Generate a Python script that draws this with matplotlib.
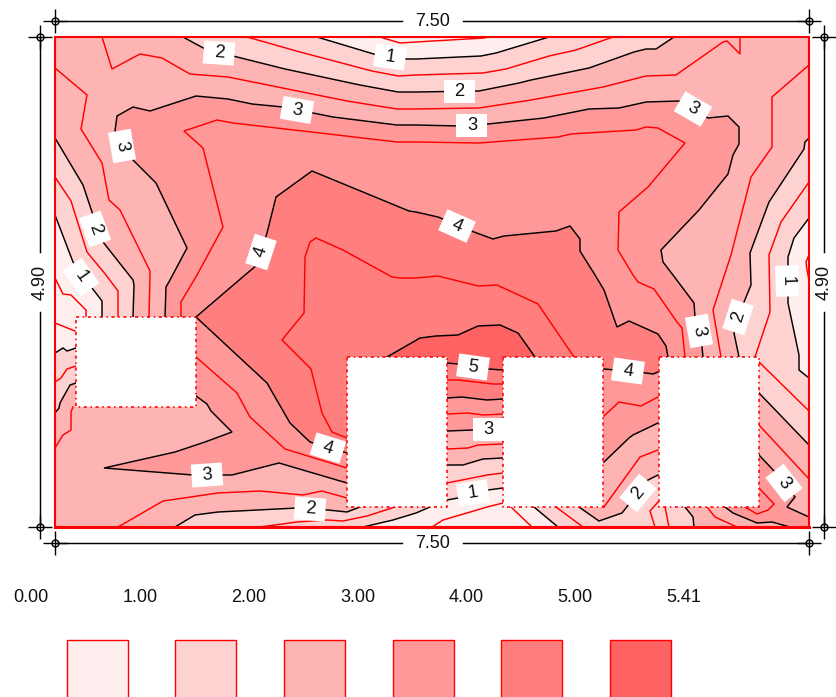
import numpy as np
import matplotlib
matplotlib.use("Agg")
import matplotlib.pyplot as plt
from matplotlib.patches import Polygon, Rectangle

plt.rcParams["font.family"] = ["Liberation Sans", "DejaVu Sans"]

# slab size in metres
slab_w = 7.50
slab_h = 4.90

legend_labels = ["0.00", "1.00", "2.00", "3.00", "4.00", "5.00", "5.41"]
band_colors = ["#FFEEEE", "#FFD2D2", "#FFB4B4", "#FF9999", "#FF7F7F", "#FF6262"]

# contours, (x, y) in picture pixels, converted to metres below
# level 0.5
red05_top = [(380, 37), (400, 43), (416, 42), (484, 38), (488, 37)]
red05_left = [(55, 278), (63, 294), (71, 295), (86, 310), (86, 317)]
red05_low = [(55, 323), (75, 331)]
red05_bot_a = [(432, 527), (443, 520), (467, 513), (487, 507), (503, 503)]
red05_bot_b = [(511, 507), (532, 527)]
red05_right = [(809, 255), (806, 262), (807, 270), (809, 280)]
# level 1
black1_top = [(317, 37), (377, 55), (407, 59), (416, 59), (481, 56), (496, 53), (549, 37)]
black1_left = [(55, 215), (73, 262), (92, 288), (102, 301), (102, 317)]
black1_low = [(76, 348), (67, 351), (63, 348), (55, 353)]
black1_a = [(363, 527), (393, 520), (416, 513), (430, 507)]
black1_mid = [(447, 500), (458, 498), (488, 490), (503, 488)]
black1_b = [(534, 507), (558, 527)]
black1_right = [(809, 218), (794, 238), (788, 257), (788, 303), (799, 355), (799, 370), (809, 378)]
# level 1.5
red15_top = [(247, 37), (300, 52), (372, 71), (398, 76), (416, 75), (483, 73), (506, 69),
             (549, 56), (576, 50), (613, 37)]
red15_left = [(55, 177), (71, 201), (87, 252), (106, 275), (118, 291), (118, 317)]
red15_low = [(55, 382), (61, 378), (67, 369), (76, 366)]
red15_bot_a = [(260, 527), (297, 522), (327, 520), (343, 521), (367, 516), (395, 507)]
red15_mid = [(447, 483), (487, 475), (503, 473)]
red15_bot_b = [(556, 507), (583, 527)]
red15_bot_c = [(658, 502), (650, 511), (655, 527), (645, 527)]
red15_bot_d = [(665, 507), (669, 527)]
red15_ru = [(809, 182), (781, 222), (769, 255), (770, 312), (755, 357)]
red15_rl = [(759, 362), (809, 411)]
# level 2
black2_top = [(183, 37), (207, 50), (237, 57), (285, 69), (360, 85), (398, 92), (416, 92),
              (479, 91), (519, 83), (531, 80), (589, 68), (634, 52), (646, 49), (656, 49), (674, 37)]
black2_left = [(55, 138), (83, 185), (92, 212), (103, 242), (133, 280), (134, 285), (133, 317)]
black2_low = [(76, 383), (70, 385), (60, 403), (59, 408), (55, 413)]
black2_a = [(175, 527), (195, 515), (218, 512), (297, 508), (328, 510), (347, 512), (360, 507)]
black2_mid = [(447, 465), (463, 465), (483, 459), (503, 458)]
black2_b = [(579, 507), (599, 521), (622, 513), (648, 480), (658, 475)]
black2_c = [(685, 507), (693, 517), (694, 527)]
black2_ru = [(809, 138), (805, 142), (804, 149), (769, 202), (750, 253), (751, 285), (744, 302),
             (734, 333), (739, 357)]
black2_rl = [(759, 393), (809, 445)]
# level 2.5
red25_top = [(102, 37), (112, 69), (140, 54), (162, 58), (190, 74), (228, 77), (347, 101),
             (397, 109), (416, 109), (479, 108), (531, 100), (603, 87), (646, 76), (676, 75),
             (723, 42), (727, 41), (740, 54), (740, 37)]
red25_left = [(55, 68), (87, 95), (81, 129), (102, 163), (109, 200), (120, 210), (150, 271),
              (150, 275), (149, 317)]
red25_low = [(55, 448), (63, 435), (71, 430), (71, 412), (73, 407)]
red25_bot = [(118, 527), (163, 501), (218, 493), (260, 491), (303, 495), (322, 491), (347, 498)]
red25_mid = [(447, 449), (468, 448), (478, 445), (503, 444)]
red25_b = [(604, 507), (640, 457), (658, 450)]
red25_c = [(707, 507), (715, 517), (737, 527)]
red25_ru = [(809, 65), (772, 97), (772, 147), (751, 177), (731, 255), (713, 310), (721, 357)]
red25_rl = [(759, 425), (809, 479)]
# level 3
black3_main = [(165, 317), (166, 287), (170, 280), (187, 248), (156, 183), (132, 159), (115, 131),
               (117, 116), (133, 107), (150, 111), (196, 96), (228, 99), (252, 104), (283, 107),
               (313, 113), (333, 117), (397, 125), (416, 125), (459, 126), (488, 124), (544, 118),
               (589, 109), (619, 108), (646, 102), (679, 101), (708, 118), (728, 116), (739, 127),
               (739, 144), (733, 155), (728, 174), (699, 210), (661, 250), (663, 262), (673, 275),
               (694, 303), (695, 317), (702, 347), (703, 357)]
black3_b = [(604, 462), (629, 438), (633, 435), (658, 423)]
black3_mid = [(447, 431), (473, 430), (503, 428)]
black3_low = [(347, 483), (279, 463), (232, 475), (193, 475), (104, 468), (175, 452), (205, 442),
              (232, 432), (211, 411), (207, 404), (196, 396)]
black3_br_a = [(725, 507), (733, 513), (757, 523), (772, 522), (790, 527)]
black3_br_b = [(809, 517), (787, 507), (795, 497), (775, 472), (759, 455)]
# level 3.5
red35_main = [(181, 317), (181, 302), (197, 275), (223, 227), (203, 148), (184, 131), (217, 120),
              (233, 123), (320, 133), (397, 142), (416, 142), (479, 143), (558, 137), (571, 134),
              (636, 130), (646, 127), (658, 128), (685, 143), (664, 168), (648, 187), (619, 212),
              (618, 250), (633, 275), (638, 282), (654, 289), (677, 322), (682, 328), (685, 357)]
red35_low = [(196, 357), (237, 393), (250, 417), (285, 449), (347, 468)]
red35_mid = [(447, 414), (468, 413), (483, 415), (503, 414)]
red35_b = [(604, 416), (619, 402), (641, 406), (658, 397)]
red35_br = [(759, 488), (774, 504), (768, 510), (757, 514), (745, 507)]
# level 4
black4_up = [(196, 317), (245, 275), (257, 265), (267, 233), (276, 197), (312, 171), (409, 211),
             (416, 212), (438, 217), (474, 232), (493, 239), (504, 236), (556, 231), (570, 226),
             (580, 239), (580, 251), (595, 275), (604, 290), (617, 327), (629, 321), (658, 334),
             (666, 346), (668, 357)]
black4_b = [(658, 372), (653, 374), (646, 373), (627, 371), (604, 369)]
black4_mid = [(503, 399), (487, 400), (462, 397), (447, 398)]
black4_low = [(347, 453), (310, 442), (290, 423), (267, 383), (196, 317)]
# level 4.5
red45_main = [(347, 438), (332, 432), (322, 413), (311, 369), (282, 340), (304, 313), (305, 257),
              (310, 242), (316, 238), (343, 250), (392, 277), (400, 278), (416, 278), (438, 276),
              (478, 286), (497, 285), (538, 304), (574, 357)]
red45_mid = [(447, 380), (458, 380), (493, 384), (503, 384)]
# level 5
black5_up = [(387, 357), (420, 338), (436, 336), (458, 335), (478, 326), (500, 325), (518, 333),
             (535, 357)]
black5_mid = [(503, 370), (488, 369), (458, 364), (447, 363)]

red_lines = [red05_top, red05_left, red05_low, red05_bot_a, red05_bot_b, red05_right,
             red15_top, red15_left, red15_low, red15_bot_a, red15_mid, red15_bot_b, red15_bot_c,
             red15_bot_d, red15_ru, red15_rl,
             red25_top, red25_left, red25_low, red25_bot, red25_mid, red25_b, red25_c, red25_ru,
             red25_rl,
             red35_main, red35_low, red35_mid, red35_b, red35_br,
             red45_main, red45_mid]
black_lines = [black1_top, black1_left, black1_low, black1_a, black1_mid, black1_b, black1_right,
               black2_top, black2_left, black2_low, black2_a, black2_mid, black2_b, black2_c,
               black2_ru, black2_rl,
               black3_main, black3_b, black3_mid, black3_low, black3_br_a, black3_br_b,
               black4_up, black4_b, black4_mid, black4_low,
               black5_up, black5_mid]

# openings in the slab, (left, top, right, bottom)
holes = [(76, 317, 196, 407), (347, 357, 447, 507), (503, 357, 603, 507), (659, 357, 759, 507)]

# contour labels: text, x, y, rotation
label_text = ["2", "1", "2", "3", "3", "3", "3", "2", "1", "4", "4", "1", "3", "2", "5", "4",
              "3", "1", "4", "3", "2", "2", "3"]
label_x = [219, 390, 459, 297, 472, 693, 122, 95, 81, 261, 457, 787, 699, 738, 473, 628,
           488, 473, 328, 207, 310, 638, 784]
label_y = [53, 57, 91, 110, 125, 109, 146, 229, 277, 252, 226, 281, 331, 317, 367, 371,
           429, 493, 448, 475, 509, 493, 483]
label_rot = [-4, -8, 0, -10, 0, -30, -80, -70, -55, 72, -24, -88, -80, 72, -8, -8,
             0, 9, -17, 4, -4, 50, -52]


def to_m(pts):
    arr = np.array(pts, dtype=float)
    return np.column_stack([(arr[:, 0] - 55) / 754 * slab_w, (527 - arr[:, 1]) / 490 * slab_h])


fig = plt.figure(figsize=(8.36, 6.97), dpi=100)
ax = fig.add_axes([55 / 836, 170 / 697, 754 / 836, 490 / 697])
ax.set_xlim(0, slab_w)
ax.set_ylim(0, slab_h)
ax.axis("off")

ax.add_patch(Rectangle((0, 0), slab_w, slab_h, fc=band_colors[2], ec="none", zorder=1))

below2 = [black2_top,
          black2_left + black2_low,
          black2_a + black2_mid + black2_b + black2_c,
          black2_ru + black2_rl]
below1 = [black1_top,
          black1_left + black1_low,
          black1_a + black1_mid + black1_b,
          black1_right]
above3 = [black3_main + black3_b[::-1] + black3_mid[::-1] + black3_low,
          black3_br_b[::-1] + [(809, 517), (809, 527)] + black3_br_a[::-1]]
above4 = [black4_up + black4_b + black4_mid + black4_low]
above5 = [black5_up + black5_mid]

for shape in below2:
    ax.add_patch(Polygon(to_m(shape), fc=band_colors[1], ec="none", zorder=2))
for shape in below1:
    ax.add_patch(Polygon(to_m(shape), fc=band_colors[0], ec="none", zorder=3))
for shape in above3:
    ax.add_patch(Polygon(to_m(shape), fc=band_colors[3], ec="none", zorder=2))
for shape in above4:
    ax.add_patch(Polygon(to_m(shape), fc=band_colors[4], ec="none", zorder=3))
for shape in above5:
    ax.add_patch(Polygon(to_m(shape), fc=band_colors[5], ec="none", zorder=4))

for line in red_lines:
    xy = to_m(line)
    ax.plot(xy[:, 0], xy[:, 1], color="#FF0000", lw=1.05, zorder=5, solid_joinstyle="miter")
for line in black_lines:
    xy = to_m(line)
    ax.plot(xy[:, 0], xy[:, 1], color="#000000", lw=1.05, zorder=5, solid_joinstyle="miter")

for left, top, right, bottom in holes:
    xy = to_m([(left, top), (right, top), (right, bottom), (left, bottom)])
    ax.add_patch(Polygon(xy, fc="white", ec="none", zorder=6))
    ax.add_patch(Polygon(xy, fc="none", ec="#FF0000", lw=1.15, ls=(0, (2, 2.2, 1, 2.2)), zorder=7))

# label boxes, sized in pixels so they stay the same when rotated
box_w = 31
box_h = 23
for txt, px, py, rot in zip(label_text, label_x, label_y, label_rot):
    a = np.deg2rad(rot)
    ux, uy = np.cos(a), -np.sin(a)
    vx, vy = np.sin(a), np.cos(a)
    corners = [(px + sx * box_w / 2 * ux + sy * box_h / 2 * vx,
                py + sx * box_w / 2 * uy + sy * box_h / 2 * vy)
               for sx, sy in [(-1, -1), (1, -1), (1, 1), (-1, 1)]]
    ax.add_patch(Polygon(to_m(corners), fc="white", ec="none", zorder=8))
    pos = to_m([(px, py)])[0]
    ax.text(pos[0], pos[1], txt, rotation=rot, rotation_mode="anchor", ha="center", va="center",
            fontsize=13.2, color="#111111", zorder=9)

ax.add_patch(Rectangle((0, 0), slab_w, slab_h, fc="none", ec="#FF0000", lw=1.5, zorder=10,
                       clip_on=False))
ax.plot([0, slab_w], [0, 0], color="#FF0000", lw=2.2, zorder=10, clip_on=False)

# dimension lines and legend sit on a full figure overlay in pixels
over = fig.add_axes([0, 0, 1, 1])
over.set_xlim(0, 836)
over.set_ylim(697, 0)
over.axis("off")
over.patch.set_alpha(0)


def dim_end(x, y):
    over.plot([x], [y], marker="o", ms=5, mfc="none", mec="black", mew=1.0, zorder=3)
    over.plot([x], [y], marker="+", ms=17, mec="black", mew=1.0, zorder=3)


for y in [21, 543]:
    over.plot([55, 402], [y, y], color="black", lw=1.05)
    over.plot([463, 809], [y, y], color="black", lw=1.05)
    dim_end(55, y)
    dim_end(809, y)
    over.text(432.5, y, "7.50", ha="center", va="center", fontsize=13, color="#111111")
for x in [40, 824]:
    over.plot([x, x], [37, 252], color="black", lw=1.05)
    over.plot([x, x], [312, 527], color="black", lw=1.05)
    dim_end(x, 37)
    dim_end(x, 527)
    over.text(x, 282, "4.90", ha="center", va="center", rotation=90, fontsize=13, color="#111111")

legend_x = [31, 140, 249, 358, 466, 575, 684]
swatch_left = [67, 175, 284, 393, 501, 610]
for txt, x in zip(legend_labels, legend_x):
    over.text(x, 598, txt, ha="center", va="center", fontsize=13, color="#111111")
for left, col in zip(swatch_left, band_colors):
    over.add_patch(Rectangle((left, 640), 61, 62, fc=col, ec="#FF0000", lw=1.0))

fig.savefig("out.png", dpi=100)
